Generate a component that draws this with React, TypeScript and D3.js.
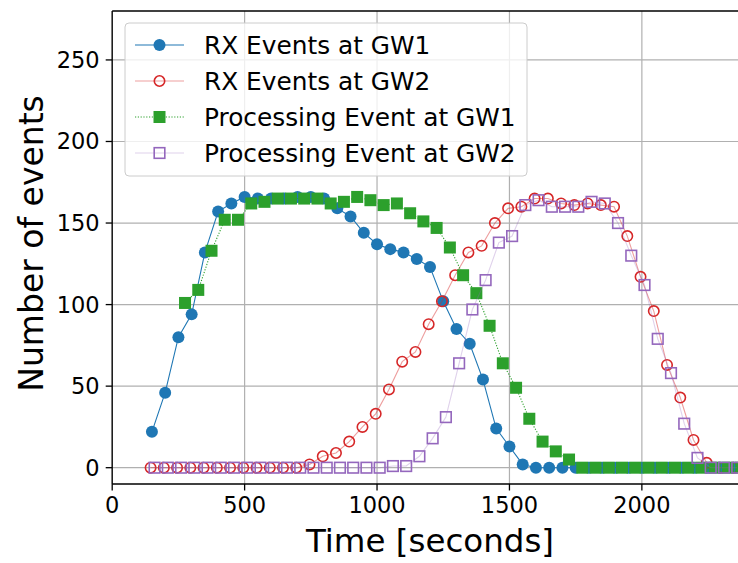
import React from "react";
import * as d3 from "d3";

// ---- data ----
const xTicks = [0, 500, 1000, 1500, 2000];
const yTicks = [0, 50, 100, 150, 200, 250];

const rx1Time = [150, 200, 250, 300, 350, 400, 450, 500, 550, 600, 650, 700, 750, 800, 850, 900, 950, 1000, 1050, 1100, 1150, 1200, 1250, 1300, 1350, 1400, 1450, 1500, 1550, 1600, 1650, 1700, 1750, 1800, 1850, 1900, 1950, 2000, 2050, 2100, 2150, 2200, 2250, 2300, 2350];
const rx1Values = [22, 46, 80, 94, 132, 157, 162, 166, 165, 165, 165, 166, 166, 165, 159, 154, 144, 137, 134, 132, 128, 123, 102, 85, 76, 54, 24, 13, 2, 0, 0, 0, 0, 0, 0, 0, 0, 0, 0, 0, 0, 0, 0, 0, 0];

const rx2Time = [145, 195, 245, 295, 345, 395, 445, 495, 545, 595, 645, 695, 745, 795, 845, 895, 945, 995, 1045, 1095, 1145, 1195, 1245, 1295, 1345, 1395, 1445, 1495, 1545, 1595, 1645, 1695, 1745, 1795, 1845, 1895, 1945, 1995, 2045, 2095, 2145, 2195, 2245, 2295, 2345];
const rx2Values = [0, 0, 0, 0, 0, 0, 0, 0, 0, 0, 0, 0, 2, 7, 9, 16, 25, 33, 48, 65, 71, 88, 102, 118, 132, 136, 150, 159, 160, 165, 165, 162, 161, 162, 161, 160, 142, 117, 96, 63, 43, 17, 3, 0, 0];

const proc1Time = [275, 325, 375, 425, 475, 525, 575, 625, 675, 725, 775, 825, 875, 925, 975, 1025, 1075, 1125, 1175, 1225, 1275, 1325, 1375, 1425, 1475, 1525, 1575, 1625, 1675, 1725, 1775, 1825, 1875, 1925, 1975, 2025, 2075, 2125, 2175, 2225, 2275, 2325, 2375];
const proc1Values = [101, 109, 133, 152, 152, 162, 163, 165, 165, 165, 165, 162, 163, 166, 164, 161, 162, 156, 151, 147, 135, 118, 107, 87, 64, 49, 30, 16, 10, 5, 0, 0, 0, 0, 0, 0, 0, 0, 0, 0, 0, 0, 0];

const proc2Time = [160, 210, 260, 310, 360, 410, 460, 510, 560, 610, 660, 710, 760, 810, 860, 910, 960, 1010, 1060, 1110, 1160, 1210, 1260, 1310, 1360, 1410, 1460, 1510, 1560, 1610, 1660, 1710, 1760, 1810, 1860, 1910, 1960, 2010, 2060, 2110, 2160, 2210, 2260, 2310, 2360];
const proc2Values = [0, 0, 0, 0, 0, 0, 0, 0, 0, 0, 0, 0, 0, 0, 0, 0, 0, 0, 1, 1, 7, 18, 31, 64, 97, 115, 138, 142, 161, 164, 160, 160, 160, 163, 162, 150, 130, 112, 79, 58, 27, 6, 0, 0, 0];

const seriesLabels = ["RX Events at GW1", "RX Events at GW2", "Processing Event at GW1", "Processing Event at GW2"];
const xLabel = "Time [seconds]";
const yLabel = "Number of events";

// ---- layout ----
const W = 738, H = 563;
const left = 112.2, right = 747.8, top = 11, bottom = 484;
const FONT = "DejaVu Sans, sans-serif";

const colors = ["#1f77b4", "#d62728", "#2ca02c", "#9467bd"];

type Pt = [number, number];

export default function App() {
  const x = d3.scaleLinear().domain([0, 2400]).range([left, right]);
  const y = d3.scaleLinear().domain([-10, 280]).range([bottom, top]);
  const line = d3.line<Pt>().x(d => x(d[0])).y(d => y(d[1]));

  const zip = (t: number[], v: number[]): Pt[] => t.map((tt, i) => [tt, v[i]]);
  const series = [
    zip(rx1Time, rx1Values),
    zip(rx2Time, rx2Values),
    zip(proc1Time, proc1Values),
    zip(proc2Time, proc2Values),
  ];

  const lineStyles = [
    { stroke: colors[0], strokeWidth: 1.1, opacity: 1, dash: undefined as string | undefined },
    { stroke: colors[1], strokeWidth: 1.1, opacity: 0.45, dash: undefined },
    { stroke: colors[2], strokeWidth: 1.1, opacity: 1, dash: "1.2,1.6" },
    { stroke: colors[3], strokeWidth: 1.1, opacity: 0.3, dash: undefined },
  ];

  const marker = (k: number, cx: number, cy: number, key: string | number) => {
    if (k === 0) return <circle key={key} cx={cx} cy={cy} r={6} fill={colors[0]} />;
    if (k === 1) return <circle key={key} cx={cx} cy={cy} r={5.2} fill="none" stroke={colors[1]} strokeWidth={1.6} />;
    if (k === 2) return <rect key={key} x={cx - 6} y={cy - 6} width={12} height={12} fill={colors[2]} />;
    return <rect key={key} x={cx - 5.3} y={cy - 5.3} width={10.6} height={10.6} fill="none" stroke={colors[3]} strokeWidth={1.6} />;
  };

  const tickFont = 22.5;
  const legendFont = 24.8;
  const legendRows = [45, 81, 117, 153];

  return (
    <svg width={W} height={H} style={{ position: "absolute", left: 0, top: 0, background: "#fff" }} fontFamily={FONT}>
      <defs>
        <clipPath id="plotClip">
          <rect x={left} y={top} width={right - left} height={bottom - top} />
        </clipPath>
      </defs>
      <rect x={0} y={0} width={W} height={H} fill="#fff" />
      {/* grid */}
      <g stroke="#b0b0b0" strokeWidth={1.2}>
        {xTicks.map(t => <line key={"gx" + t} x1={x(t)} x2={x(t)} y1={top} y2={bottom} />)}
        {yTicks.map(t => <line key={"gy" + t} x1={left} x2={right} y1={y(t)} y2={y(t)} />)}
      </g>
      {/* series */}
      <g clipPath="url(#plotClip)">
        {series.map((s, k) => (
          <g key={"s" + k}>
            <path d={line(s) || ""} fill="none" stroke={lineStyles[k].stroke} strokeWidth={lineStyles[k].strokeWidth}
              strokeOpacity={lineStyles[k].opacity} strokeDasharray={lineStyles[k].dash} />
            {s.map((p, i) => marker(k, x(p[0]), y(p[1]), i))}
          </g>
        ))}
      </g>
      {/* spines */}
      <g stroke="#000" strokeWidth={1.3} fill="none">
        <line x1={left} x2={left} y1={top} y2={bottom} />
        <line x1={left} x2={right} y1={bottom} y2={bottom} />
        <line x1={left} x2={right} y1={top} y2={top} />
        <line x1={right} x2={right} y1={top} y2={bottom} />
      </g>
      {/* ticks */}
      <g stroke="#000" strokeWidth={1.3}>
        {xTicks.map(t => <line key={"tx" + t} x1={x(t)} x2={x(t)} y1={bottom} y2={bottom + 6.5} />)}
        {yTicks.map(t => <line key={"ty" + t} x1={left} x2={left - 6.5} y1={y(t)} y2={y(t)} />)}
      </g>
      <g fontSize={tickFont} fill="#000">
        {xTicks.map(t => <text key={"lx" + t} x={x(t)} y={bottom + 29} textAnchor="middle">{t}</text>)}
        {yTicks.map(t => <text key={"ly" + t} x={left - 12.5} y={y(t) + 8} textAnchor="end">{t}</text>)}
      </g>
      <text x={(left + right) / 2} y={552} textAnchor="middle" fontSize={32.5}>{xLabel}</text>
      <text transform={`translate(43, ${(top + bottom) / 2 - 4}) rotate(-90)`} textAnchor="middle" fontSize={33}>{yLabel}</text>
      {/* legend */}
      <rect x={125} y={23} width={402} height={153} rx={4} fill="#fff" fillOpacity={0.8} stroke="#cccccc" strokeWidth={1} />
      {seriesLabels.map((lab, k) => (
        <g key={"lg" + k}>
          <line x1={135} x2={184} y1={legendRows[k]} y2={legendRows[k]} stroke={lineStyles[k].stroke}
            strokeWidth={lineStyles[k].strokeWidth} strokeOpacity={lineStyles[k].opacity} strokeDasharray={lineStyles[k].dash} />
          {marker(k, 159.5, legendRows[k], "m" + k)}
          <text x={204} y={legendRows[k] + 8.8} fontSize={legendFont} fill="#000">{lab}</text>
        </g>
      ))}
    </svg>
  );
}
